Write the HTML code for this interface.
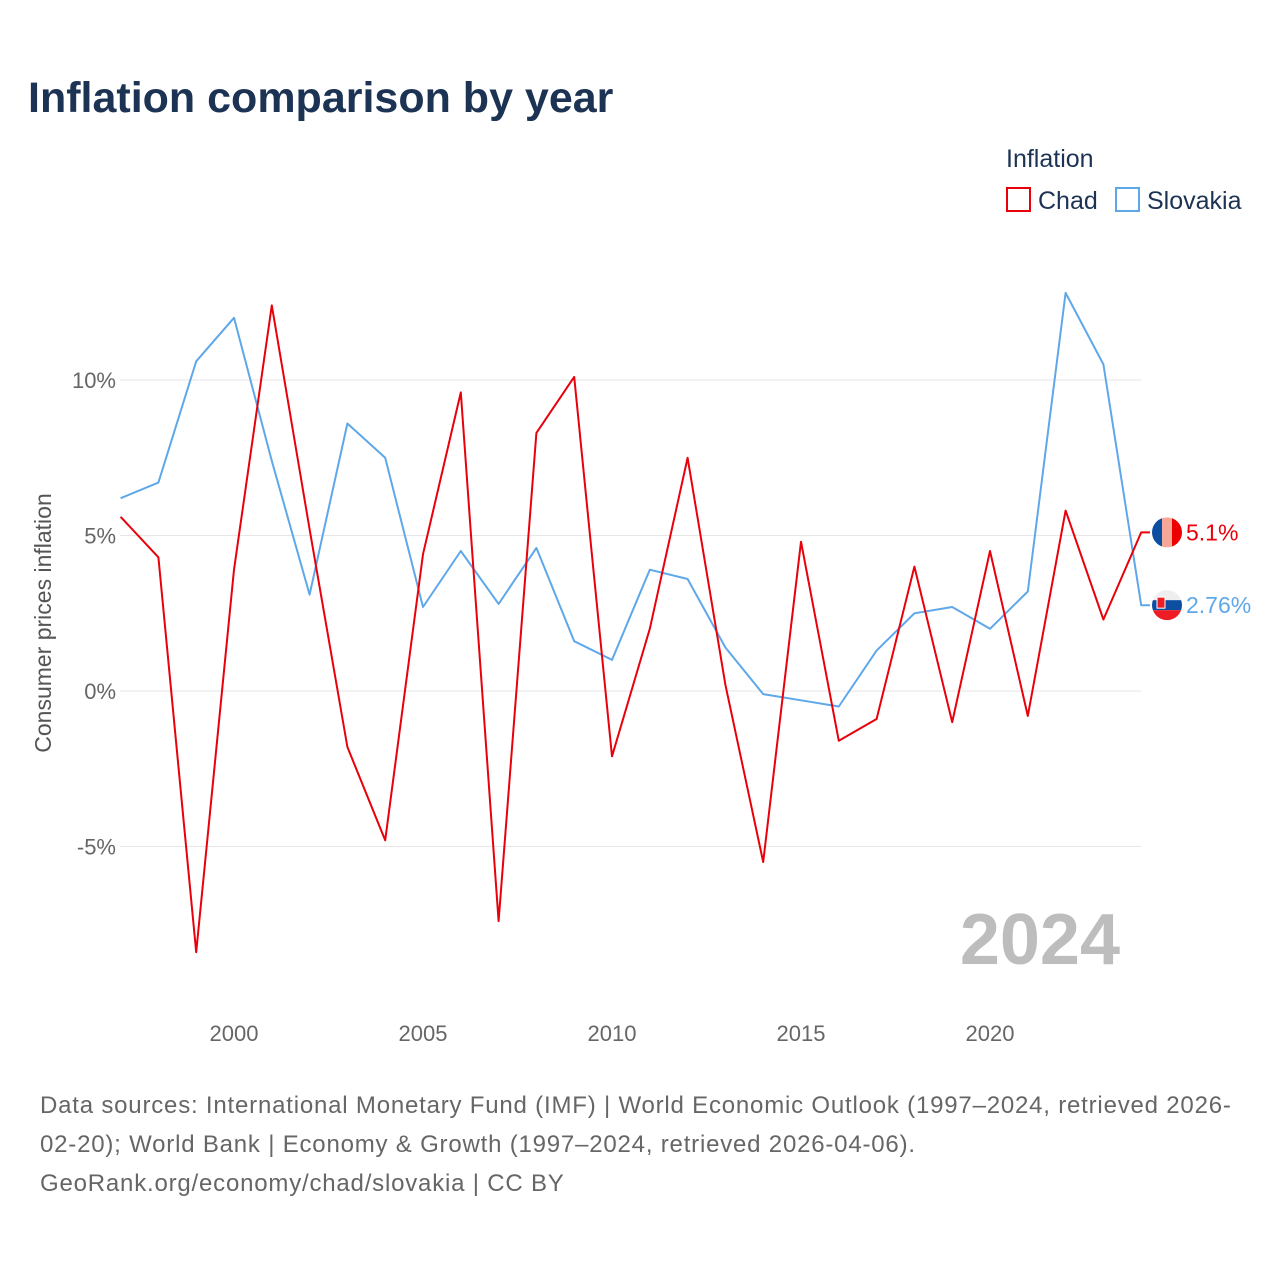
<!DOCTYPE html>
<html><head><meta charset="utf-8"><style>
body{margin:0;background:#fff;font-family:"Liberation Sans",sans-serif}
svg text{font-family:"Liberation Sans",sans-serif}
</style></head><body>
<svg width="1280" height="1280" xmlns="http://www.w3.org/2000/svg" id="chart">
<text x="28" y="112" font-size="43" font-weight="bold" fill="#1d3354">Inflation comparison by year</text>
<text x="1006" y="167" font-size="25" fill="#1d3354">Inflation</text>
<g><rect x="1007" y="188" width="23" height="23" fill="none" stroke="#e8000b" stroke-width="2"/><text x="1038" y="209" font-size="25" fill="#1d3354">Chad</text></g>
<g><rect x="1116" y="188" width="23" height="23" fill="none" stroke="#5ea8ea" stroke-width="2"/><text x="1147" y="209" font-size="25" fill="#1d3354">Slovakia</text></g>
<g id="grid"></g><g id="yt"></g><g id="xt"></g><g id="lines"></g><g id="ends"></g>
<text transform="translate(51,623) rotate(-90)" text-anchor="middle" font-size="23" fill="#555">Consumer prices inflation</text>
<text x="1120" y="964" text-anchor="end" font-size="72" font-weight="bold" fill="#bdbdbd">2024</text>
<text font-size="24" fill="#666" letter-spacing="0.8"><tspan x="40" y="1113">Data sources: International Monetary Fund (IMF) | World Economic Outlook (1997–2024, retrieved 2026-</tspan><tspan x="40" y="1152">02-20); World Bank | Economy &amp; Growth (1997–2024, retrieved 2026-04-06).</tspan><tspan x="40" y="1191">GeoRank.org/economy/chad/slovakia | CC BY</tspan></text>
</svg>
<script>
const years=[1997,1998,1999,2000,2001,2002,2003,2004,2005,2006,2007,2008,2009,2010,2011,2012,2013,2014,2015,2016,2017,2018,2019,2020,2021,2022,2023,2024];
const chad=[5.6,4.3,-8.4,3.9,12.4,5.2,-1.8,-4.8,4.4,9.6,-7.4,8.3,10.1,-2.1,2.0,7.5,0.2,-5.5,4.8,-1.6,-0.9,4.0,-1.0,4.5,-0.8,5.8,2.3,5.1];
const slovakia=[6.2,6.7,10.6,12.0,7.4,3.1,8.6,7.5,2.7,4.5,2.8,4.6,1.6,1.0,3.9,3.6,1.4,-0.1,-0.3,-0.5,1.3,2.5,2.7,2.0,3.2,12.8,10.5,2.76];
const yTicks=[-5,0,5,10];
const xTicks=[2000,2005,2010,2015,2020];
const NS="http://www.w3.org/2000/svg";
const X=y=>120.6+(y-1997)*37.8;
const Y=v=>691-v*31.1;
function mk(t,a,p){const e=document.createElementNS(NS,t);for(const k in a)e.setAttribute(k,a[k]);document.getElementById(p).appendChild(e);return e;}
yTicks.forEach(v=>{
 const l=mk('line',{x1:120,x2:1141,y1:Y(v),y2:Y(v),stroke:'#e6e6e6','stroke-width':1},'grid');
 
 
 const t=mk('text',{x:116,y:Y(v)+8,'text-anchor':'end','font-size':22,fill:'#666'},'yt');
 t.textContent=v+'%';
 
 
});
xTicks.forEach(v=>{
 const t=mk('text',{x:X(v),y:1041,'text-anchor':'middle','font-size':22,fill:'#666'},'xt');
 t.textContent=v;
 
 
});
function series(vals,col,name){
 const d=vals.map((v,i)=>(i?'L':'M')+X(years[i]).toFixed(1)+','+Y(v).toFixed(1)).join('')+'L1150,'+Y(vals[vals.length-1]).toFixed(1);
 const p=mk('path',{d:d,fill:'none',stroke:col,'stroke-width':2,'stroke-linejoin':'round'},'lines');
 
 
}
series(slovakia,'#5ea8ea','slovakia');
series(chad,'#e8000b','chad');
function flag(v,kind,col,label,name){
 const cy=Y(v),cx=1167,g=mk('g',{},'ends');
 
 
 const id='c'+name;
 g.innerHTML=`<clipPath id="${id}"><circle cx="${cx}" cy="${cy}" r="15"/></clipPath>`+
 (kind==='td'?`<g clip-path="url(#${id})"><rect x="${cx-15}" y="${cy-15}" width="10" height="30" fill="#0b4ea2"/><rect x="${cx-5}" y="${cy-15}" width="10" height="30" fill="#f5a898"/><rect x="${cx+5}" y="${cy-15}" width="10" height="30" fill="#ee0000"/></g>`
 :`<g clip-path="url(#${id})"><rect x="${cx-15}" y="${cy-15}" width="30" height="10" fill="#eee"/><rect x="${cx-15}" y="${cy-5}" width="30" height="10" fill="#0b4ea2"/><rect x="${cx-15}" y="${cy+5}" width="30" height="10" fill="#ee1c25"/><rect x="${cx-10}" y="${cy-8}" width="8" height="11" fill="#ee1c25" stroke="#fff"/></g>`)+
 `<text x="1186" y="${cy+8}" font-size="23" fill="${col}">${label}</text>`;
}
flag(chad[chad.length-1],'td','#e8000b',chad[chad.length-1]+'%','chad');
flag(slovakia[slovakia.length-1],'sk','#5ea8ea',slovakia[slovakia.length-1]+'%','slovakia');
</script>
</body></html>
